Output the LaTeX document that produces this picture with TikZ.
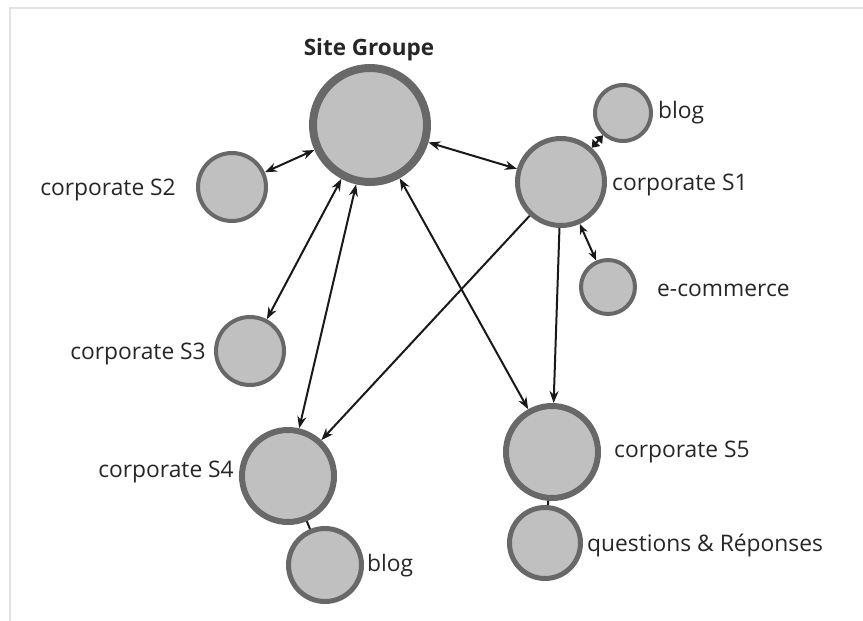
\documentclass[tikz,border=0pt]{standalone}
\usepackage{fontspec}
\setmainfont{Open Sans}
\usetikzlibrary{arrows.meta}
\definecolor{nodefill}{RGB}{192,192,192}
\definecolor{nodeline}{RGB}{104,104,104}
\definecolor{framegray}{RGB}{226,226,226}
\tikzset{
  site/.style={circle, fill=nodefill, draw=nodeline, inner sep=0pt},
  lbl/.style={inner sep=0pt, font=\fontsize{22.8}{26}\selectfont, text=black!85},
  link/.style={line width=2pt, draw=black!90},
  both/.style={link, {Stealth[length=12pt,width=9pt]}-{Stealth[length=12pt,width=9pt]}},
  one/.style={link, -{Stealth[length=12pt,width=9pt]}},
}
\begin{document}
\begin{tikzpicture}[x=1pt,y=-1pt]
  \useasboundingbox (0,0) rectangle (863,621);
  % light frame along the top and left edges
  \draw[framegray, line width=2.5pt] (10,621) -- (10,8) -- (863,8);

  % sites
  \node[site, line width=8pt, minimum size=114pt] (sg) at (370,125) {};
  \node[site, line width=4pt, minimum size=68pt]  (s2) at (232,187) {};
  \node[site, line width=5pt, minimum size=87pt]  (s1) at (561,182) {};
  \node[site, line width=4pt, minimum size=56pt]  (blogA) at (623,113) {};
  \node[site, line width=4pt, minimum size=54pt]  (ecom) at (608,287) {};
  \node[site, line width=4pt, minimum size=68pt]  (s3) at (250,351) {};
  \node[site, line width=6pt, minimum size=92pt]  (s4) at (288,476) {};
  \node[site, line width=5pt, minimum size=73pt]  (blogB) at (325,565) {};
  \node[site, line width=6pt, minimum size=92pt]  (s5) at (552,452) {};
  \node[site, line width=5pt, minimum size=71pt]  (qr) at (545,543) {};

  % labels
  \node[lbl, font=\fontsize{22.5}{26}\selectfont\bfseries] (tsg) at (369,50) {Site Groupe};
  \node[lbl, anchor=east] (ts2) at (176,190) {corporate S2};
  \node[lbl, anchor=west] (ts1) at (612,185) {corporate S1};
  \node[lbl, anchor=west] (tblogA) at (658,113) {blog};
  \node[lbl, anchor=west] (tecom) at (657,290) {e-commerce};
  \node[lbl, anchor=east] (ts3) at (206,354) {corporate S3};
  \node[lbl, anchor=east] (ts4) at (234,472) {corporate S4};
  \node[lbl, anchor=west] (tblogB) at (367,566) {blog};
  \node[lbl, anchor=west] (ts5) at (614,452) {corporate S5};
  \node[lbl, anchor=west] (tqr) at (587,546) {questions \& Réponses};

  % links
  \draw[both] (s2) -- (sg);
  \draw[both] (sg) -- (s1);
  \draw[both] (sg) -- (s3);
  \draw[both] (sg) -- (s4);
  \draw[both] (sg) -- (s5);
  \draw[one] (s1) -- (s4);
  \draw[one] (s1) -- (s5);
  \draw[link, {Stealth[length=7pt,width=10pt,inset=0pt]}-{Stealth[length=7pt,width=10pt,inset=0pt]}] (s1) -- (blogA);
  \draw[link, {Stealth[length=10pt,width=8pt]}-{Stealth[length=10pt,width=8pt]}] (s1) -- (ecom);
  \draw[link] (s4) -- (blogB);
  \draw[link] (s5) -- (qr);
\end{tikzpicture}
\end{document}
